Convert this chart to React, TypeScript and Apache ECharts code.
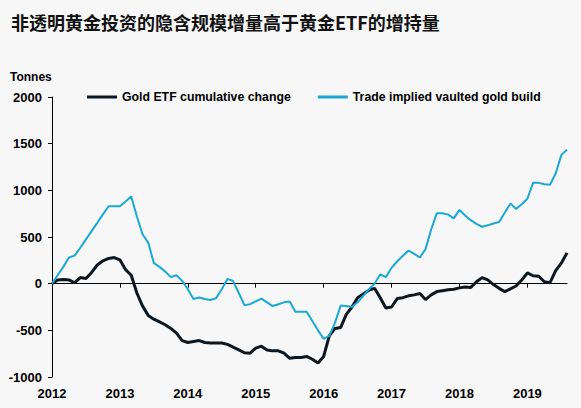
import React, { useEffect, useRef } from "react";
import * as echarts from "echarts";

const titleText = "非透明黄金投资的隐含规模增量高于黄金ETF的增持量";
const unitLabel = "Tonnes";
const seriesNames = ["Gold ETF cumulative change", "Trade implied vaulted gold build"];
const years = [2012, 2013, 2014, 2015, 2016, 2017, 2018, 2019];
const monthCount = 92; // Jan 2012 .. Aug 2019

const goldEtf = [
  0, 40, 45, 40, 10, 65, 55, 120, 200, 245, 270, 280,
  255, 150, 90, -100, -240, -340, -380, -410, -440, -480, -530, -610,
  -630, -620, -610, -630, -635, -635, -635, -650, -680, -710, -740, -745,
  -690, -670, -710, -720, -720, -745, -800, -790, -790, -780, -810, -850,
  -780, -560, -480, -470, -330, -250, -150, -110, -70, -50, -150, -260,
  -250, -160, -150, -130, -120, -105, -170, -120, -85, -75, -65, -60,
  -45, -35, -40, 20, 65, 40, -10, -50, -85, -55, -25, 40,
  115, 85, 80, 20, 10, 140, 220, 330,
];

const vaultedGold = [
  0, 90, 180, 280, 300, 385, 474, 563, 652, 742, 830, 830,
  830, 880, 935, 720, 530, 440, 220, 180, 130, 70, 90, 30,
  -60, -165, -148, -165, -175, -155, -60, 50, 30, -100, -230, -220,
  -190, -160, -200, -240, -220, -200, -190, -300, -300, -300, -400, -500,
  -590, -560, -420, -235, -240, -250, -200, -130, -60, 0, 100, 70,
  170, 240, 300, 355, 320, 280, 370, 580, 755, 755, 740, 700,
  790, 730, 680, 640, 610, 625, 645, 660, 760, 860, 800, 850,
  910, 1080, 1080, 1065, 1060, 1180, 1380, 1435,
];

const yTicks = { min: -1000, max: 2000, interval: 500 };

const categories: string[] = [];
years.forEach((y) => {
  for (let m = 1; m <= 12; m++) categories.push(`${y}-${m < 10 ? "0" + m : m}`);
});
const months = categories.slice(0, monthCount);

const FONT = "'Liberation Sans', Arial, sans-serif";

export default function App() {
  const ref = useRef<HTMLDivElement>(null);
  useEffect(() => {
    if (!ref.current) return;
    const chart = echarts.init(ref.current, undefined, { renderer: "svg" });
    chart.setOption({
      animation: false,
      backgroundColor: "#f7f7f7",
      title: {
        text: titleText,
        left: 6,
        top: 8,
        textStyle: {
          fontFamily: "'Noto Sans CJK SC', sans-serif",
          fontSize: 18,
          fontWeight: "bold",
          color: "#111",
        },
      },
      graphic: [
        {
          type: "text",
          left: 10,
          top: 71,
          style: {
            text: unitLabel,
            fontFamily: FONT,
            fontSize: 12,
            fontWeight: "bold",
            fill: "#000",
          },
        },
      ],
      legend: {
        left: 82,
        top: 86,
        itemWidth: 30,
        itemHeight: 3,
        itemGap: 27,
        icon: "rect",
        textStyle: {
          fontFamily: FONT,
          fontSize: 12.3,
          fontWeight: "bold",
          color: "#000",
        },
        data: seriesNames,
      },
      grid: { left: 52, right: 14, top: 97, bottom: 31, containLabel: false },
      xAxis: [
        {
          type: "category",
          data: months,
          boundaryGap: false,
          position: "bottom",
          axisLine: { show: true, onZero: true, lineStyle: { color: "#000", width: 1 } },
          axisTick: {
            show: true,
            length: 4,
            interval: (i: number) => i % 12 === 0,
            lineStyle: { color: "#000" },
          },
          axisLabel: { show: false },
          splitLine: { show: false },
        },
        {
          type: "category",
          data: months,
          boundaryGap: false,
          position: "bottom",
          axisLine: { show: false, onZero: false },
          axisTick: { show: false },
          axisLabel: {
            show: true,
            interval: (i: number) => i % 12 === 0,
            formatter: (v: string) => v.slice(0, 4),
            fontFamily: FONT,
            fontSize: 13,
            fontWeight: "bold",
            color: "#000",
            margin: 10,
          },
          splitLine: { show: false },
        },
      ],
      yAxis: {
        type: "value",
        min: yTicks.min,
        max: yTicks.max,
        interval: yTicks.interval,
        axisLine: { show: true, lineStyle: { color: "#000", width: 1 } },
        axisTick: { show: true, length: 4, lineStyle: { color: "#000" } },
        axisLabel: {
          formatter: (v: number) => String(v),
          fontFamily: FONT,
          fontSize: 13,
          fontWeight: "bold",
          color: "#000",
          margin: 10,
        },
        splitLine: { show: false },
      },
      series: [
        {
          name: seriesNames[0],
          type: "line",
          xAxisIndex: 0,
          data: goldEtf,
          color: "#0b1822",
          showSymbol: false,
          symbol: "none",
          lineStyle: { width: 3, color: "#0b1822" },
        },
        {
          name: seriesNames[1],
          type: "line",
          xAxisIndex: 0,
          data: vaultedGold,
          color: "#1aa9d6",
          showSymbol: false,
          symbol: "none",
          lineStyle: { width: 2, color: "#1aa9d6" },
        },
      ],
    });
    return () => chart.dispose();
  }, []);
  return (
    <div
      ref={ref}
      style={{ position: "fixed", left: 0, top: 0, width: 581, height: 408 }}
    />
  );
}
